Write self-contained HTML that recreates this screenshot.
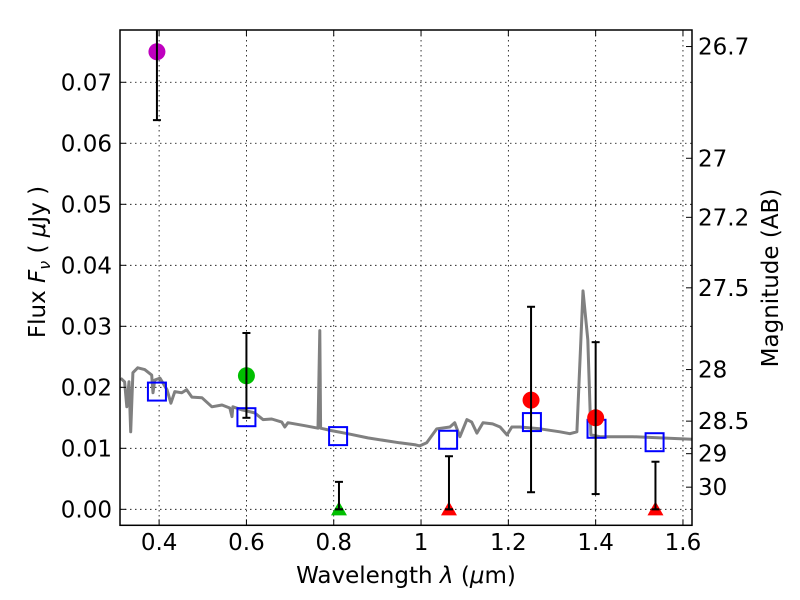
<!DOCTYPE html>
<html><head><meta charset="utf-8"><style>
body{margin:0;background:#fff}
svg{display:block}
text{font-family:"DejaVu Sans","Liberation Sans",sans-serif;font-size:23px;fill:#000}
</style></head><body>
<svg id="chart" width="800" height="600" viewBox="0 0 800 600" xmlns="http://www.w3.org/2000/svg"></svg>
<script>
const xTicks=[0.4,0.6,0.8,1.0,1.2,1.4,1.6];
const xTickLabels=["0.4","0.6","0.8","1","1.2","1.4","1.6"];
const yTicks=[0,0.01,0.02,0.03,0.04,0.05,0.06,0.07];
const yTickLabels=["0.00","0.01","0.02","0.03","0.04","0.05","0.06","0.07"];
const magTicks=[26.7,27,27.2,27.5,28,28.5,29,30];
const magTickLabels=["26.7","27","27.2","27.5","28","28.5","29","30"];
const modelWave=[0.312,0.321,0.326,0.331,0.335,0.340,0.351,0.367,0.383,0.386,0.390,0.402,0.418,0.427,0.436,0.452,0.463,0.475,0.498,0.521,0.544,0.562,0.567,0.569,0.590,0.619,0.638,0.658,0.681,0.688,0.695,0.734,0.764,0.768,0.770,0.795,0.832,0.878,0.951,0.986,0.997,1.013,1.036,1.066,1.077,1.089,1.105,1.116,1.128,1.142,1.164,1.181,1.197,1.208,1.226,1.272,1.318,1.341,1.357,1.371,1.382,1.389,1.410,1.485,1.620];
const modelFlux=[0.0215,0.0209,0.0168,0.0209,0.0127,0.0224,0.0232,0.0229,0.0220,0.0191,0.0212,0.0215,0.0196,0.0174,0.0193,0.0191,0.0196,0.0184,0.0183,0.0168,0.0171,0.0166,0.0152,0.0168,0.0163,0.0158,0.0147,0.0148,0.0143,0.0135,0.0142,0.0137,0.0133,0.0293,0.0133,0.0129,0.0124,0.0117,0.0109,0.0106,0.0104,0.0109,0.0132,0.0135,0.0142,0.0119,0.0147,0.0143,0.0125,0.0142,0.0140,0.0135,0.0122,0.0135,0.0135,0.0132,0.0127,0.0124,0.0127,0.0358,0.0278,0.0122,0.0119,0.0119,0.0115];
const modelBandWave=[0.395,0.600,0.810,1.062,1.254,1.402,1.535];
const modelBandFlux=[0.0193,0.0151,0.0120,0.0114,0.0143,0.0132,0.0110];
const detWave=[0.395,0.600,1.252,1.400];
const detFlux=[0.0750,0.0219,0.0179,0.0150];
const detErrLo=[0.0638,0.0150,0.0028,0.0025];
const detErrHi=[0.0820,0.0289,0.0332,0.0274];
const detColor=["#bf00bf","#00bf00","#ff0000","#ff0000"];
const ulWave=[0.812,1.064,1.537];
const ulFlux=[0,0,0];
const ulErrHi=[0.0045,0.0087,0.0078];
const ulColor=["#00bf00","#ff0000","#ff0000"];

const L=120,R=692,T=30,B=525.3;
const xMin=0.3104,xMax=1.6207,yMin=-0.00262,yMax=0.07857;
const sx=v=>L+(v-xMin)/(xMax-xMin)*(R-L);
const sy=v=>B-(v-yMin)/(yMax-yMin)*(B-T);
const magToFlux=m=>Math.pow(10,(23.9-m)/2.5);
const svg=document.getElementById('chart');
const NS='http://www.w3.org/2000/svg';
function mk(tag,attrs,parent){const e=document.createElementNS(NS,tag);for(const k in attrs)e.setAttribute(k,attrs[k]);(parent||svg).appendChild(e);return e;}

const defs=mk('defs',{});
const cp=mk('clipPath',{id:'clip'},defs);
mk('rect',{x:L,y:T,width:R-L,height:B-T},cp);

const grid=mk('g',{stroke:'#000','stroke-width':0.8,'stroke-dasharray':'1.5,3.5',fill:'none'});


xTicks.forEach(v=>mk('line',{x1:sx(v),x2:sx(v),y1:T,y2:B},grid));
yTicks.forEach(v=>mk('line',{x1:L,x2:R,y1:sy(v),y2:sy(v)},grid));

const plot=mk('g',{'clip-path':'url(#clip)'});
const pts=modelWave.map((w,i)=>sx(w).toFixed(1)+','+sy(modelFlux[i]).toFixed(1)).join(' ');
const line=mk('polyline',{points:pts,fill:'none',stroke:'#808080','stroke-width':3,'stroke-linejoin':'round'},plot);



modelBandWave.forEach((w,i)=>{
  const r=mk('rect',{x:sx(w)-9,y:sy(modelBandFlux[i])-9,width:18,height:18,fill:'none',stroke:'#0000ff','stroke-width':2},plot);
  
  
});

detWave.forEach((w,i)=>{
  const g=mk('g',{},plot);
  
  
  const x=sx(w);
  mk('circle',{cx:x,cy:sy(detFlux[i]),r:8.5,fill:detColor[i]},g);
  mk('line',{x1:x,x2:x,y1:sy(detErrLo[i]),y2:sy(detErrHi[i]),stroke:'#000','stroke-width':2},g);
  mk('line',{x1:x-4,x2:x+4,y1:sy(detErrLo[i]),y2:sy(detErrLo[i]),stroke:'#000','stroke-width':2},g);
  mk('line',{x1:x-4,x2:x+4,y1:sy(detErrHi[i]),y2:sy(detErrHi[i]),stroke:'#000','stroke-width':2},g);
});

ulWave.forEach((w,i)=>{
  const g=mk('g',{},plot);
  
  
  const x=sx(w),y=sy(ulFlux[i]);
  mk('polygon',{points:`${x},${y-8} ${x-8},${y+6} ${x+8},${y+6}`,fill:ulColor[i]},g);
  mk('line',{x1:x,x2:x,y1:y,y2:sy(ulErrHi[i]),stroke:'#000','stroke-width':2},g);
  mk('line',{x1:x-4,x2:x+4,y1:sy(ulErrHi[i]),y2:sy(ulErrHi[i]),stroke:'#000','stroke-width':2},g);
  mk('line',{x1:x-4,x2:x+4,y1:y,y2:y,stroke:'#000','stroke-width':2},g);
});

const frame=mk('rect',{x:L,y:T,width:R-L,height:B-T,fill:'none',stroke:'#000','stroke-width':1.5});



const xa=mk('g',{});


xTicks.forEach((v,i)=>{
  mk('line',{x1:sx(v),x2:sx(v),y1:B,y2:B-6,stroke:'#000'},xa);
  mk('line',{x1:sx(v),x2:sx(v),y1:T,y2:T+6,stroke:'#000'},xa);
  const t=mk('text',{x:sx(v),y:550,'text-anchor':'middle'},xa);t.textContent=xTickLabels[i];
});
const ya=mk('g',{});


yTicks.forEach((v,i)=>{
  mk('line',{x1:L,x2:L+6,y1:sy(v),y2:sy(v),stroke:'#000'},ya);
  const t=mk('text',{x:L-8,y:sy(v)+8,'text-anchor':'end'},ya);t.textContent=yTickLabels[i];
});
const ma=mk('g',{});


magTicks.forEach((m,i)=>{
  const y=sy(magToFlux(m));
  mk('line',{x1:R,x2:R-6,y1:y,y2:y,stroke:'#000'},ma);
  const t=mk('text',{x:R+6,y:y+8,'text-anchor':'start'},ma);t.textContent=magTickLabels[i];
});

const xl=mk('text',{x:406,y:583,'text-anchor':'middle'});


xl.innerHTML='Wavelength  <tspan font-style="italic">λ</tspan> (<tspan font-style="italic">μ</tspan>m)';
const yl=mk('text',{x:0,y:0,'text-anchor':'middle',transform:'translate(45,262) rotate(-90)'});


yl.innerHTML='Flux  <tspan font-style="italic">F</tspan><tspan font-style="italic" font-size="16" dy="5">ν</tspan><tspan dy="-5">  ( </tspan><tspan font-style="italic">μ</tspan>Jy )';
const rl=mk('text',{x:0,y:0,'text-anchor':'middle',transform:'translate(778,278) rotate(-90)'});


rl.textContent='Magnitude (AB)';
</script>
</body></html>
